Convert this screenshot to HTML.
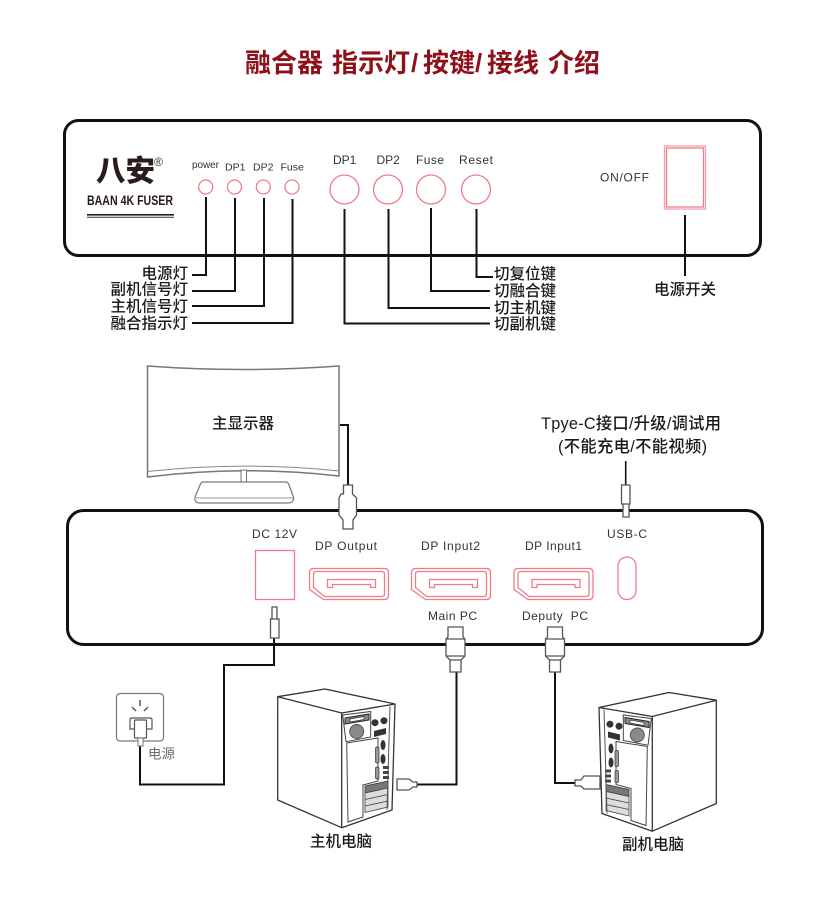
<!DOCTYPE html>
<html lang="zh"><head><meta charset="utf-8"><title>融合器 指示灯/按键/接线 介绍</title>
<style>html,body{margin:0;padding:0;background:#fff}svg{display:block}
text{font-family:"Liberation Sans","Noto Sans CJK SC",sans-serif;fill:#222}
.cn{font-size:15.500px;font-weight:500;fill:#1a1a1a;dominant-baseline:central}
.lb{font-size:12px;fill:#333;dominant-baseline:central}
.k{fill:none;stroke:#111;stroke-width:2}
.p{fill:none;stroke:#ee7d88;stroke-width:1.300}
.g{fill:#fff;stroke:#555;stroke-width:1.300}
</style></head><body>
<svg width="829" height="900" viewBox="0 0 829 900" xmlns="http://www.w3.org/2000/svg">
<defs>
<g id="port">
<path class="p" d="M4 0H75Q79 0 79 4V27Q79 31 75 31H14L0 21V4Q0 0 4 0Z"/>
<path class="p" d="M7 3H72Q75 3 75 6V25Q75 28 72 28H15L4 19V6Q4 3 7 3Z"/>
<path class="p" d="M18 11H66V19H61V16H23V19H18Z"/>
</g>
<g id="hdmi">
<path class="g" d="M-7.500 0H7.500V10L9.500 12V29L5.500 33V45H-5.500V33L-9.500 29V12L-7.500 10Z"/>
<path class="g" d="M-9.500 12H9.500M-9.500 29H9.500M-5.500 33H5.500" fill="none"/>
</g>
<g id="tower">
<path d="M277.700 696.700L325 689L395 704L392 810L341.700 827.700L277.700 800Z" fill="#fff" stroke="#333" stroke-width="1.300" stroke-linejoin="round"/>
<path d="M277.700 696.700L341.700 713L395 704M341.700 713V827.700" fill="none" stroke="#333" stroke-width="1.300"/>
<path d="M342.700 715L370.700 711.500V737L346 741.700Z" fill="#fff" stroke="#444"/>
<path d="M346.700 743L378 738V781L363 785V817L348 822Z" fill="#fff" stroke="#444"/>
<path d="M345 718L369 714V720L345 724Z" fill="#888" stroke="#222"/>
<path d="M350 719L364 716.500V719.500L350 722Z" fill="#fff" stroke="#333" stroke-width=".7"/>
<circle cx="356.700" cy="731.500" r="7" fill="#8a8a8a" stroke="#555"/>
<circle cx="375" cy="722.700" r="3.500" fill="#333"/><circle cx="384" cy="720.700" r="3.500" fill="#333"/>
<path d="M374 731L386 728V734L374 737Z" fill="#333"/>
<ellipse cx="383" cy="745" rx="2.500" ry="5" fill="#333"/><ellipse cx="383" cy="759" rx="2.500" ry="5" fill="#333"/>
<rect x="375.500" y="747" width="3.500" height="16" rx="1.500" fill="#999" stroke="#333" stroke-width=".7"/>
<rect x="375.500" y="767" width="3.500" height="12" rx="1.500" fill="#999" stroke="#333" stroke-width=".7"/>
<path d="M383 766H389V769H383ZM383 771H389V774H383ZM383 776H389V779H383Z" fill="#444"/>
<path d="M365 786L388 781V788L365 793Z" fill="#777" stroke="#333" stroke-width=".8"/>
<path d="M365 793L388 788V794.500L365 799.500ZM365 799.500L388 794.500V801L365 806ZM365 806L388 801V807L365 812.500Z" fill="#ddd" stroke="#444" stroke-width=".8"/>
<path d="M390 706L387 810" fill="none" stroke="#555"/>
</g>
</defs>

<text y="72" font-size="26" font-weight="700" style="fill:#8f1018"><tspan x="245">融合器</tspan><tspan x="332">指示灯</tspan><tspan x="411">/</tspan><tspan x="423">按键</tspan><tspan x="475">/</tspan><tspan x="487">接线</tspan><tspan x="548">介绍</tspan></text>

<rect x="64.500" y="120.500" width="696" height="135" rx="14" fill="none" stroke="#111" stroke-width="3"/>

<text x="96" y="181" font-size="29.500" font-weight="900" style="fill:#2a1c18">八安</text>
<text x="154" y="166" font-size="12" style="fill:#333">®</text>
<text x="87" y="205" font-size="13.500" font-weight="700" textLength="86" lengthAdjust="spacingAndGlyphs" style="fill:#2a1c18">BAAN 4K FUSER</text>
<rect x="87" y="214" width="87" height="1.600" fill="#2a1c18"/><rect x="87" y="216.800" width="87" height=".9" fill="#2a1c18"/>

<text class="lb" x="192" y="165.500" style="font-size:10px" textLength="27">power</text>
<text class="lb" x="225" y="167.500" style="font-size:10.500px">DP1</text>
<text class="lb" x="253" y="167.500" style="font-size:10.500px">DP2</text>
<text class="lb" x="280.500" y="167.500" style="font-size:10.500px">Fuse</text>
<circle class="p" cx="205.700" cy="187" r="7"/><circle class="p" cx="234.500" cy="187" r="7"/><circle class="p" cx="263.300" cy="187" r="7"/><circle class="p" cx="292" cy="187" r="7"/>

<text class="lb" x="333" y="160">DP1</text><text class="lb" x="376.500" y="160">DP2</text>
<text class="lb" x="416" y="160" textLength="28">Fuse</text><text class="lb" x="459" y="160" textLength="34">Reset</text>
<circle class="p" cx="344.500" cy="189.500" r="14.500"/><circle class="p" cx="388" cy="189.500" r="14.500"/><circle class="p" cx="431" cy="189.500" r="14.500"/><circle class="p" cx="476" cy="189.500" r="14.500"/>

<path class="k" d="M206 197V275H192M235 198V291H192M264 198V306H192M292.500 199V323H192"/>
<path class="k" d="M344.500 209V323.500H490M388.500 209V308H490M431 208V291H490M476.500 209V277H493"/>
<path class="k" d="M685 215V276"/>

<g text-anchor="end">
<text class="cn" x="188" y="274">电源灯</text><text class="cn" x="188" y="290">副机信号灯</text>
<text class="cn" x="188" y="307">主机信号灯</text><text class="cn" x="188" y="324">融合指示灯</text>
</g>
<text class="cn" x="494" y="274.500">切复位键</text><text class="cn" x="494" y="291.500">切融合键</text>
<text class="cn" x="494" y="308.500">切主机键</text><text class="cn" x="494" y="324.500">切副机键</text>
<text class="cn" x="654" y="290">电源开关</text>

<text class="lb" x="600" y="177.500" textLength="49">ON/OFF</text>
<rect x="664.500" y="146" width="41" height="63" fill="none" stroke="#f2a0a8" stroke-width="1.300"/>
<rect x="666.500" y="148" width="37" height="59" fill="none" stroke="#ee7d88" stroke-width="1.300"/>

<!-- monitor -->
<path d="M147.500 366Q243 373 339 366V476Q243 465 147.500 477Z" fill="#fff" stroke="#777" stroke-width="1.500"/>
<path d="M147.500 471.500Q243 461 339 471" fill="none" stroke="#888" stroke-width="1"/>
<path d="M241 470H246.500V492H241Z" fill="#fff" stroke="#777"/>
<path d="M203 482H286Q288 482 289 485L293.500 497Q294 503 288 503H200Q194 503 195 497L200 485Q201 482 203 482Z" fill="#fff" stroke="#777" stroke-width="1.200"/>
<path d="M196 498H293" fill="none" stroke="#999"/>
<text class="cn" x="212" y="424">主显示器</text>

<!-- lower box -->
<rect x="67.500" y="510.500" width="695" height="134" rx="16" fill="none" stroke="#111" stroke-width="3"/>

<path class="k" d="M340 425H348V486"/>
<path class="g" d="M343.500 485H352.500V494L356.500 498V515L353 520V529H343V520L339 515V498L341 494H343.500Z"/>

<text class="cn" x="541" y="424" textLength="180" style="font-size:16.300px">Tpye-C接口/升级/调试用</text>
<text class="cn" x="558" y="447" textLength="149" style="font-size:16.300px">(不能充电/不能视频)</text>
<path d="M625.700 461V485" stroke="#111" stroke-width="1.600" fill="none"/>
<path class="g" d="M621.500 485H630V504H621.500ZM623 504H629V517H623Z"/>

<text class="lb" x="252" y="534" textLength="45">DC 12V</text>
<text class="lb" x="315" y="546" textLength="62">DP Output</text>
<text class="lb" x="421" y="546" textLength="59">DP Input2</text>
<text class="lb" x="525" y="546" textLength="57">DP Input1</text>
<text class="lb" x="607" y="534" textLength="40">USB-C</text>
<text class="lb" x="428" y="616" textLength="49">Main PC</text>
<text class="lb" x="522" y="616" textLength="66" xml:space="preserve">Deputy  PC</text>

<rect class="p" x="255.500" y="550.500" width="39" height="49"/>
<use href="#port" x="309.500" y="568.500"/><use href="#port" x="411.500" y="568.500"/><use href="#port" x="514" y="568.500"/>
<rect class="p" x="618" y="557" width="18" height="42.500" rx="9"/>

<!-- DC cable -->
<path class="k" d="M274 638V665H224V784.500H140V745"/>
<path class="g" d="M272 607H277V619H272ZM270.500 619H279V638H270.500Z"/>

<!-- HDMI cables -->
<path class="k" d="M456.500 670V784.500H415"/>
<path class="k" d="M555 670V783H578"/>
<use href="#hdmi" x="455.500" y="627"/><use href="#hdmi" x="555" y="627"/>

<!-- socket -->
<rect x="116.500" y="693.500" width="47" height="47.500" rx="3.500" fill="#fff" stroke="#777" stroke-width="1.200"/>
<path d="M140 700V706M132 707L136 711M148 707L144 711" stroke="#555" stroke-width="1.500" fill="none"/>
<path d="M135 729H130V720Q130 718 132 718H150Q152 718 152 720V729H147" fill="none" stroke="#555" stroke-width="1.200"/>
<rect x="134.500" y="720" width="12" height="18" rx="1" fill="#fff" stroke="#555" stroke-width="1.200"/>
<rect x="138" y="738" width="5" height="8" fill="#fff" stroke="#777"/>
<text x="148" y="754" font-size="13.500" style="fill:#6b6b6b;dominant-baseline:central">电源</text>

<!-- towers -->
<use href="#tower"/>
<use href="#tower" transform="translate(994,3.500) scale(-1,1)"/>

<path class="g" d="M397 779H409L413 782H417V787H413L409 790H397Z"/>
<path class="g" d="M600 776H584L581 780H575V786H581L584 789H600Z"/>

<text class="cn" x="310" y="842">主机电脑</text>
<text class="cn" x="622" y="845">副机电脑</text>
</svg>
</body></html>
